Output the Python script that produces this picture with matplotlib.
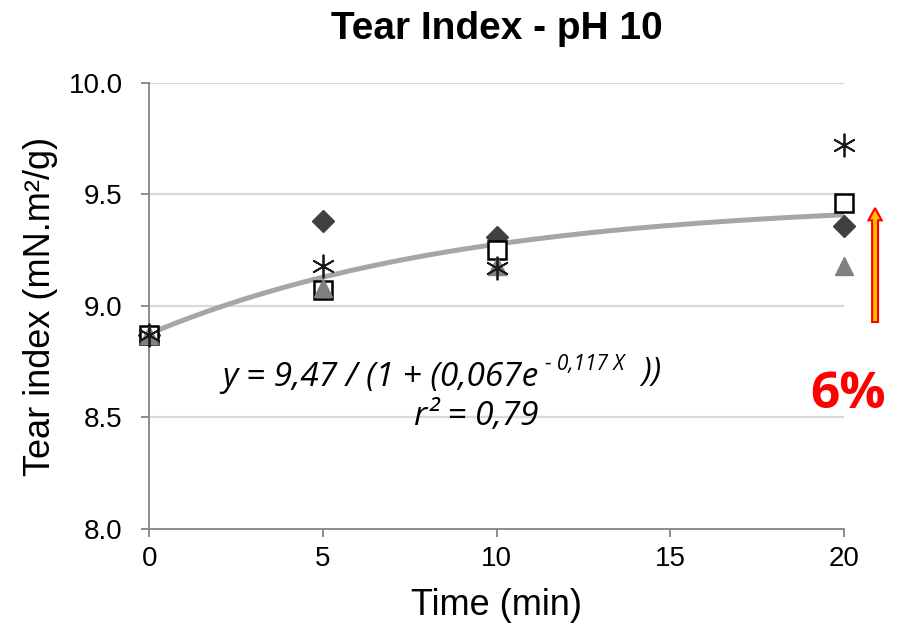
import numpy as np
import matplotlib
matplotlib.use("Agg")
import matplotlib.pyplot as plt
from matplotlib.patches import FancyArrow

# Sampling times (min)
time_min = [0, 5, 10, 20]

# Tear index of each replicate series (mN.m²/g)
series_diamond = [8.87, 9.38, 9.31, 9.36]
series_square = [8.87, 9.07, 9.25, 9.46]
series_triangle = [8.87, 9.08, 9.18, 9.18]
series_star = [8.87, 9.18, 9.17, 9.72]

# Logistic fit: y = a / (1 + b * exp(-c * x))
fit_a, fit_b, fit_c = 9.47, 0.067, 0.117
fit_r2 = 0.79

x_ticks = [0, 5, 10, 15, 20]
y_ticks = [8.0, 8.5, 9.0, 9.5, 10.0]
increase_label = "6%"

plt.rcParams["font.family"] = ["Liberation Sans", "DejaVu Sans"]

fig = plt.figure(figsize=(9.04, 6.31), dpi=100)
ax = fig.add_axes([0.165, 0.1617, 0.7688, 0.7068])

ax.set_xlim(0, 20)
ax.set_ylim(8.0, 10.0)

# Horizontal gridlines
for yv in y_ticks[1:]:
    ax.axhline(yv, color="#D9D9D9", lw=1.6, zorder=0)

# Fitted curve
xf = np.linspace(0, 20, 200)
yf = fit_a / (1 + fit_b * np.exp(-fit_c * xf))
ax.plot(xf, yf, color="#A6A6A6", lw=3.6, zorder=1, solid_capstyle="butt")

# Replicate series
ax.plot(time_min, series_diamond, ls="none", marker="D", ms=11,
        mfc="#404040", mec="#404040", zorder=3, clip_on=False)
ax.plot(time_min, series_square, ls="none", marker="s", ms=13,
        mfc="white", mec="black", mew=1.8, zorder=4, clip_on=False)
ax.plot(time_min, series_triangle, ls="none", marker="^", ms=13,
        mfc="#808080", mec="#808080", zorder=5, clip_on=False)
ax.plot(time_min, series_star, ls="none", marker=(6, 2, 0), ms=17,
        mec="#1A1A1A", mew=1.3, zorder=6, clip_on=False)

# Axes styling
for side in ("top", "right"):
    ax.spines[side].set_visible(False)
for side in ("left", "bottom"):
    ax.spines[side].set_color("#8C8C8C")
    ax.spines[side].set_linewidth(1.4)
    ax.spines[side].set_zorder(2)
ax.set_xticks(x_ticks)
ax.set_yticks(y_ticks)
ax.set_yticklabels([f"{v:.1f}" for v in y_ticks])
ax.tick_params(axis="both", direction="out", length=6, width=1.4,
               color="#8C8C8C", labelsize=20, pad=6)
ax.tick_params(axis="y", pad=13)

ax.set_title("Tear Index - pH 10", fontsize=28, fontweight="bold", pad=32)
ax.set_xlabel("Time (min)", fontsize=26, labelpad=12)
ax.set_ylabel("Tear index (mN.m²/g)", fontsize=26, labelpad=8)

# Fit equation
eq_font = dict(family="Open Sans", style="italic", color="black")
t1 = ax.text(2.1, 8.677, f"y = {fit_a:.2f} / (1 + ({fit_b:.3f}e".replace(".", ","),
             fontsize=24, va="center", ha="left", **eq_font)
t2 = ax.annotate(f"- {fit_c:.3f} X".replace(".", ","), xy=(1, 0.58), xycoords=t1,
                 xytext=(5, 0), textcoords="offset points",
                 fontsize=15, va="bottom", ha="left", **eq_font)
ax.annotate("  ))", xy=(1, 0), xycoords=t2, xytext=(0, -10),
            textcoords="offset points", fontsize=24, va="bottom", ha="left",
            **eq_font)
ax.text(9.4, 8.505, f"r² = {fit_r2:.2f}".replace(".", ","), fontsize=24,
        va="center", ha="center", **eq_font)

# Increase indicator
arrow = FancyArrow(20.89, 8.928, 0, 0.511, width=0.17, head_width=0.38,
                   head_length=0.055, length_includes_head=True,
                   facecolor="#FFC000", edgecolor="#FF0000", lw=1.5,
                   clip_on=False, zorder=7)
ax.add_patch(arrow)
ax.text(20.12, 8.60, increase_label, color="#FF0000", fontsize=37,
        fontweight="bold", family="Open Sans", ha="center", va="center",
        clip_on=False)

fig.savefig("out.png", dpi=100)
